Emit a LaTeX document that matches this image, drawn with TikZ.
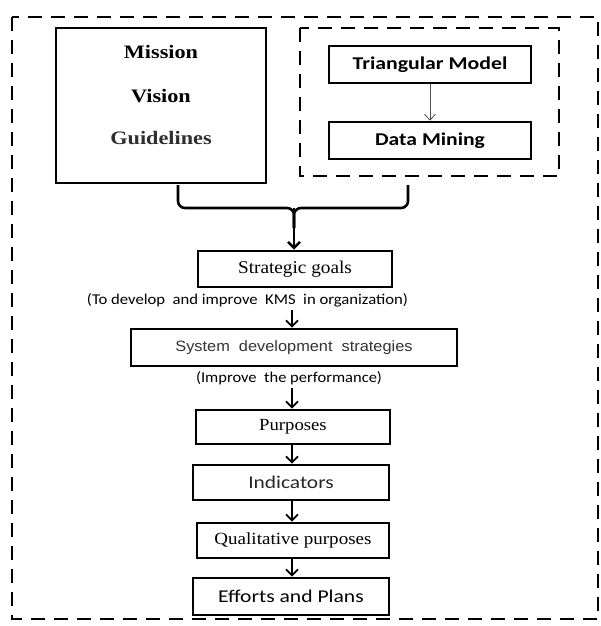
\documentclass[tikz,border=0pt]{standalone}
\usepackage{fontspec}
\setmainfont{Liberation Serif}
\newfontfamily\arialfont{Liberation Sans}
\newfontfamily\calibrifont{Carlito}
\usepackage{graphicx}
\usepackage{tikz}
\usetikzlibrary{arrows.meta}

% stretched text, as in the scanned figure
\newcommand{\wide}[2]{\scalebox{#1}[1]{#2}}

\tikzset{
  box/.style={draw, line width=2.6pt, inner sep=0pt, align=center},
  dashbox/.style={draw, line width=2.6pt, dash pattern=on 14pt off 9pt},
  flow/.style={-{Straight Barb[length=6pt,width=12pt]}, line width=1.8pt},
}

\begin{document}
\begin{tikzpicture}[x=1pt,y=-1pt]
\useasboundingbox (0,0) rectangle (600,626);
% outer frame and the dashed group on the right
\draw[dashbox] (12,17) rectangle (598,619);
\draw[dashbox] (300,28) rectangle (559,176);

% top left block
\node[box, minimum width=210pt, minimum height=155pt] (mvg) at (161,105.5) {};
\node (mission) at (161,52) {\fontsize{19}{22}\selectfont\bfseries\wide{1.17}{Mission}};
\node (vision) at (161,96) {\fontsize{19}{22}\selectfont\bfseries\wide{1.17}{Vision}};
\node[text=black!82] (guide) at (161,138) {\fontsize{19}{22}\selectfont\bfseries\wide{1.17}{Guidelines}};

% triangular model and data mining
\node[box, minimum width=202pt, minimum height=37pt] (tri) at (430,64.5) {\calibrifont\fontsize{18}{21}\selectfont\bfseries\wide{1.21}{Triangular Model}};
\node[box, minimum width=202pt, minimum height=37pt] (dm) at (430,140.5) {\calibrifont\fontsize{18}{21}\selectfont\bfseries\wide{1.2}{Data Mining}};
\draw[-{Straight Barb[length=6pt,width=11pt]}, black!70, line width=0.8pt] (tri) -- (dm);

% brace joining both blocks
\coordinate (bl) at (178,185);
\coordinate (br) at (408,185);
\coordinate (bm) at (294,208);
\node[box, minimum width=194pt, minimum height=36pt] (goals) at (295,269) {\fontsize{18}{21}\selectfont\wide{1.07}{Strategic goals}};
\draw[line width=2.6pt, rounded corners=7pt] (bl) |- (bm) -- (294,228);
\draw[line width=2.6pt, rounded corners=7pt] (br) |- (bm) -- (294,228);
\draw[flow, line width=2.6pt] (bm) -- (goals.north -| bm);

% chain of steps
\node (sub1) at (247.5,300) {\calibrifont\fontsize{15}{17}\selectfont\wide{1.11}{(To develop\ \ and improve\ \ KMS\ \ in organization)}};
\node[box, minimum width=326pt, minimum height=37pt, text=black!80] (sysdev) at (294,347.5) {\arialfont\fontsize{15}{18}\selectfont\wide{1.09}{System\ \ development\ \ strategies}};
\node (sub2) at (289,378) {\calibrifont\fontsize{15}{17}\selectfont\wide{1.1}{(Improve\ \ the performance)}};
\node[box, minimum width=194pt, minimum height=34pt] (purp) at (293,427) {\fontsize{17}{20}\selectfont\wide{1.1}{Purposes}};
\node[box, minimum width=196pt, minimum height=35pt, text=black!85] (ind) at (291,482.5) {\calibrifont\fontsize{18}{21}\selectfont\wide{1.19}{Indicators}};
\node[box, minimum width=192pt, minimum height=35pt] (qual) at (293,540.5) {\fontsize{17}{20}\selectfont\wide{1.12}{Qualitative purposes}};
\node[box, minimum width=196pt, minimum height=37pt] (eff) at (291,596.5) {\calibrifont\fontsize{18}{21}\selectfont\wide{1.2}{Efforts and Plans}};

\draw[flow] (sub1.south -| 292,0) -- (sysdev.north -| 292,0);
\draw[flow] (sub2.south -| 292,0) -- (purp.north -| 292,0);
\draw[flow] (purp.south -| 292,0) -- (ind.north -| 292,0);
\draw[flow] (ind.south -| 292,0) -- (qual.north -| 292,0);
\draw[flow] (qual.south -| 292,0) -- (eff.north -| 292,0);
\end{tikzpicture}
\end{document}
